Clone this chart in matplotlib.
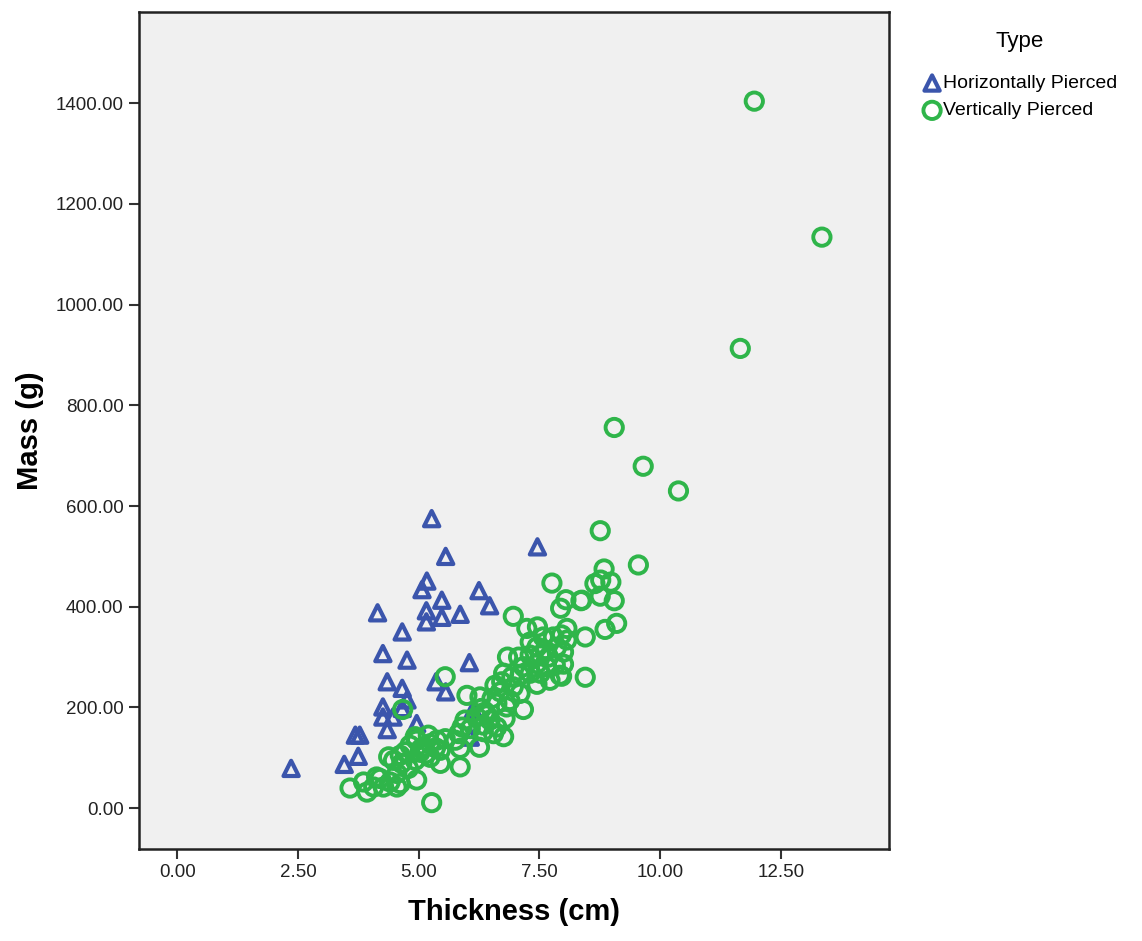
import matplotlib
matplotlib.use("Agg")
import matplotlib.pyplot as plt
from matplotlib.ticker import FormatStrFormatter

# Horizontally pierced weights
thick_h = [5.27, 5.56, 5.17, 5.07, 6.25, 5.48, 4.15, 5.16, 5.86, 5.48, 6.47, 5.16,
           4.66, 4.26, 4.76, 6.05, 4.35, 5.36, 5.56, 4.66, 4.76, 4.26, 4.26, 4.47,
           4.35, 4.96, 3.69, 3.78, 3.75, 3.46, 2.36, 6.13, 6.07, 7.46, 4.66]
mass_h = [575, 500, 451, 434, 432, 413, 388, 392, 385, 379, 402, 370,
          350, 307, 294, 289, 251, 251, 231, 238, 215, 201, 181, 181,
          156, 168, 145, 145, 103, 87, 79, 195, 141, 519, 198]

# Vertically pierced weights
thick_v = [11.95, 13.35, 11.66, 9.05, 9.65, 10.38, 8.76, 9.55, 8.84, 8.65, 8.77, 8.98,
           8.76, 9.05, 8.38, 9.10, 8.86, 8.45, 7.76, 8.36, 8.05, 7.94, 6.96, 7.24,
           7.46, 7.31, 8.07, 7.96, 8.07, 7.58, 7.79, 7.86, 7.62, 7.45, 8.45, 8.00,
           8.00, 7.96, 6.84, 7.07, 7.31, 7.52, 7.69, 7.45, 7.17, 7.65, 7.83, 7.31,
           7.52, 7.10, 6.93, 7.45, 7.72, 7.93, 6.76, 6.72, 6.58, 6.69, 6.96, 7.10,
           6.89, 5.55, 6.00, 6.27, 6.52, 6.62, 6.82, 7.17, 6.38, 6.20, 6.48, 6.79,
           5.96, 5.90, 6.62, 6.34, 6.30, 6.41, 6.07, 6.34, 6.55, 6.76, 6.26, 5.83,
           5.76, 5.86, 5.86, 5.55, 5.38, 5.24, 5.10, 4.96, 4.82, 5.03, 5.24, 4.93,
           4.62, 5.45, 5.20, 5.45, 4.96, 5.27, 4.38, 4.48, 4.65, 4.79, 4.55, 4.62,
           3.58, 3.86, 3.93, 4.07, 4.20, 4.27, 4.41, 4.55, 4.13, 4.67, 4.93, 5.05,
           5.15, 5.35, 4.72]
mass_v = [1404, 1134, 913, 756, 679, 630, 551, 483, 475, 446, 453, 449,
          421, 412, 413, 367, 355, 340, 447, 412, 414, 397, 381, 357,
          360, 330, 357, 344, 334, 340, 340, 320, 314, 320, 260, 310,
          286, 262, 300, 300, 304, 304, 300, 287, 281, 281, 284, 268,
          268, 264, 261, 246, 254, 264, 268, 251, 244, 231, 241, 228,
          214, 261, 224, 221, 218, 208, 201, 196, 191, 181, 175, 178,
          175, 161, 161, 165, 198, 185, 158, 152, 148, 142, 121, 148,
          135, 119, 82, 138, 135, 128, 122, 135, 125, 111, 101, 95,
          105, 115, 145, 89, 56, 11, 102, 95, 89, 79, 69, 49,
          40, 52, 32, 42, 59, 42, 52, 42, 62, 196, 142, 118,
          108, 120, 112]

xticks = [0, 2.5, 5, 7.5, 10, 12.5]
yticks = [0, 200, 400, 600, 800, 1000, 1200, 1400]

blue = "#3b55ac"
green = "#2fb54a"
sans = ["Liberation Sans", "DejaVu Sans"]

fig = plt.figure(figsize=(11.42, 9.41), dpi=100)
ax = fig.add_axes([0.1217, 0.0978, 0.6568, 0.8894])
ax.set_facecolor("#f0f0f0")

ax.scatter(thick_h, mass_h, marker="^", s=120, facecolors="none",
           edgecolors=blue, linewidths=3.0, label="Horizontally Pierced", zorder=3)
ax.scatter(thick_v, mass_v, marker="o", s=155, facecolors="none",
           edgecolors=green, linewidths=2.8, label="Vertically Pierced", zorder=4)

ax.set_xlim(-0.79, 14.74)
ax.set_ylim(-81, 1581)
ax.set_xticks(xticks)
ax.set_yticks(yticks)
ax.xaxis.set_major_formatter(FormatStrFormatter("%.2f"))
ax.yaxis.set_major_formatter(FormatStrFormatter("%.2f"))
ax.tick_params(axis="both", length=7, width=1.5, color="#333333",
               labelsize=13.5, labelcolor="#222222", pad=4)
for lab in ax.get_yticklabels() + ax.get_xticklabels():
    lab.set_family(sans)

for sp in ax.spines.values():
    sp.set_linewidth(1.8)
    sp.set_color("#222222")

ax.set_xlabel("Thickness (cm)", labelpad=12, family=sans, fontsize=21, fontweight="bold")
ax.set_ylabel("Mass (g)", labelpad=8, family=sans, fontsize=21, fontweight="bold")

leg = ax.legend(title="Type", loc="upper left", bbox_to_anchor=(0.8, 0.975),
                bbox_transform=fig.transFigure, frameon=False,
                prop={"family": sans, "size": 14},
                handletextpad=0.0, labelspacing=0.5, borderaxespad=0,
                handlelength=1.1, markerscale=1.0)
leg.get_title().set_fontsize(16)
leg.get_title().set_family(sans)
leg._legend_box.sep = 16

fig.savefig("out.png", dpi=100)
